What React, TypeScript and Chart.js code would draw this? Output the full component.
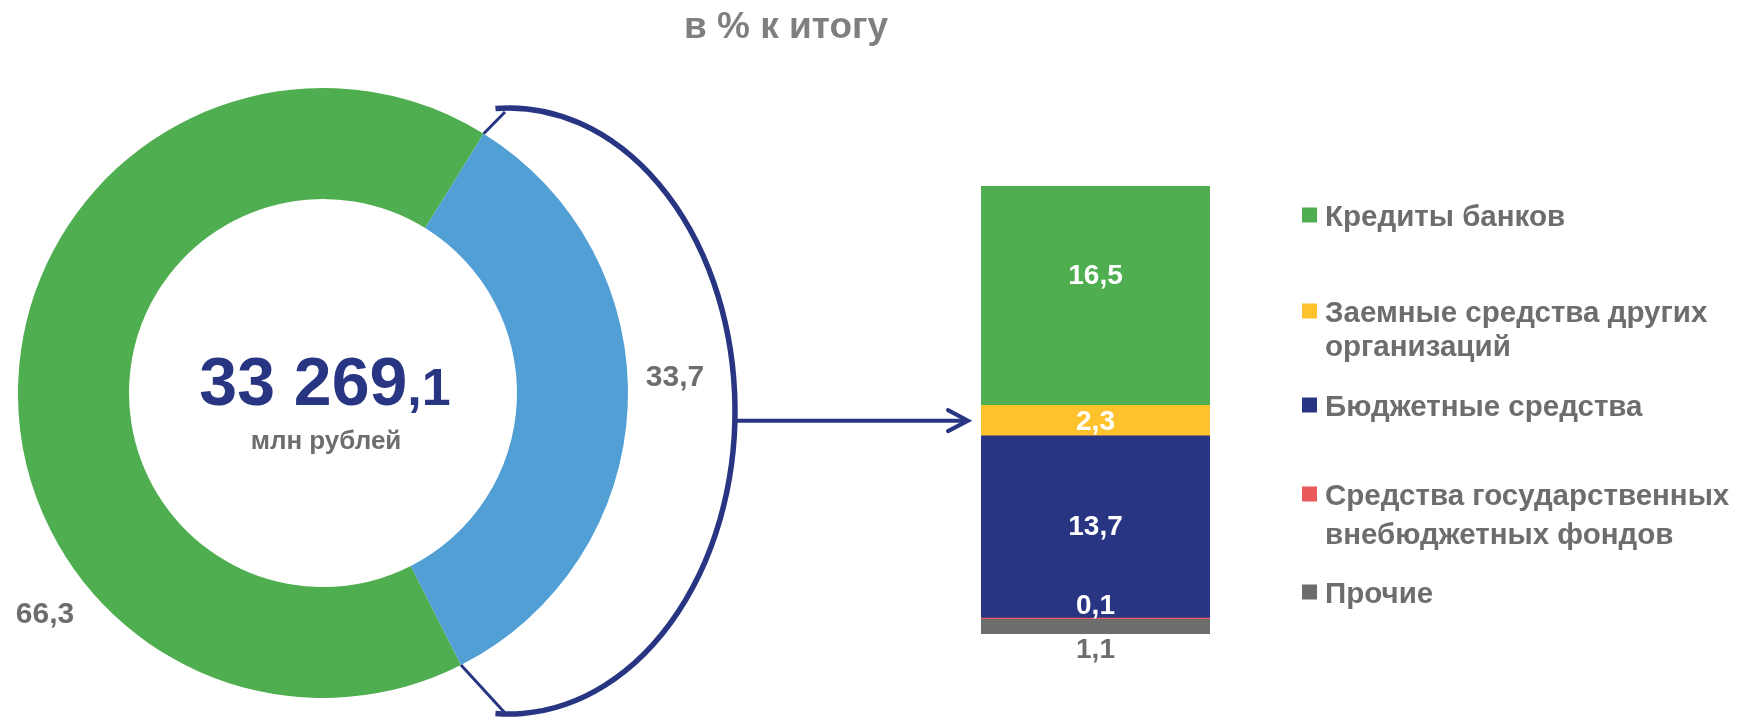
import React, { useEffect, useRef } from 'react';
import { Chart, registerables } from 'chart.js';

Chart.register(...registerables);

// ---------- data ----------
const title = 'в % к итогу';
const totalValue = 33269.1;
const totalUnit = 'млн рублей';

const donutCategories = ['Собственные средства', 'Привлеченные средства'];
const donutValues = [66.3, 33.7];

const structureCategories = [
  'Кредиты банков',
  'Заемные средства других организаций',
  'Бюджетные средства',
  'Средства государственных внебюджетных фондов',
  'Прочие',
];
const structureValues = [16.5, 2.3, 13.7, 0.1, 1.1];
const legendLines = [
  ['Кредиты банков'],
  ['Заемные средства других', 'организаций'],
  ['Бюджетные средства'],
  ['Средства государственных', 'внебюджетных фондов'],
  ['Прочие'],
];

// ---------- styles ----------
const FONT = '"Liberation Sans", Arial, Helvetica, sans-serif';
const NAVY = '#283583';
const GRAY_TEXT = '#6D6D6D';
const donutColors = ['#4FAE4F', '#529FD6'];
const donutLabelOffsets = [
  [-278, 219],
  [352, -18],
];
const structureColors = ['#4FAE4F', '#FEC22D', '#283583', '#E95B5B', '#6D6D6D'];
const structureLabelModes = ['inside', 'inside', 'inside', 'above', 'below'];
const structureLabelDy = [-22, -1, -2, 0, 0];
const structureLabelColors = ['#FFFFFF', '#FFFFFF', '#FFFFFF', '#FFFFFF', GRAY_TEXT];
const legendItemY = [215, 311, 405, 494, 592];
const legendLineGap = [36, 34, 36, 39, 36];
const stackOrder = [4, 3, 2, 1, 0]; // bottom to top

const W = 1752;
const H = 720;

const fmt = (v: number) => v.toFixed(1).replace('.', ',');
const fmtInt = (v: number) =>
  String(Math.floor(v)).replace(/\B(?=(\d{3})+(?!\d))/g, ' ');
const fmtFrac = (v: number) => ',' + v.toFixed(1).split('.')[1];

const donutOverlay = {
  id: 'donutOverlay',
  afterDraw(chart: any) {
    const ctx = chart.ctx as CanvasRenderingContext2D;
    const meta = chart.getDatasetMeta(0);
    const a0 = meta.data[0] as any;
    const blue = meta.data[1] as any;
    const cx = a0.x;
    const cy = a0.y;
    const R = a0.outerRadius;
    ctx.save();

    // title
    ctx.fillStyle = '#7F7F7F';
    ctx.font = `bold 37px ${FONT}`;
    ctx.textAlign = 'center';
    ctx.textBaseline = 'alphabetic';
    ctx.fillText(title, 786, 38);

    // center total
    const big = fmtInt(totalValue);
    const small = fmtFrac(totalValue);
    ctx.font = `bold 68px ${FONT}`;
    const w1 = ctx.measureText(big).width;
    ctx.font = `bold 52px ${FONT}`;
    const w2 = ctx.measureText(small).width;
    const sx = cx + 2 - (w1 + w2) / 2;
    ctx.textAlign = 'left';
    ctx.fillStyle = NAVY;
    ctx.font = `bold 68px ${FONT}`;
    ctx.fillText(big, sx, cy + 12);
    ctx.font = `bold 52px ${FONT}`;
    ctx.fillText(small, sx + w1, cy + 12);

    ctx.textAlign = 'center';
    ctx.fillStyle = GRAY_TEXT;
    ctx.font = `bold 26px ${FONT}`;
    ctx.fillText(totalUnit, cx + 3, cy + 56);

    // donut labels
    ctx.font = `bold 30px ${FONT}`;
    donutValues.forEach((v, i) => {
      const [dx, dy] = donutLabelOffsets[i];
      ctx.fillText(fmt(v), cx + dx, cy + dy + 11);
    });

    // bracket
    ctx.strokeStyle = NAVY;
    ctx.lineWidth = 5.5;
    ctx.beginPath();
    ctx.ellipse(cx + 186, cy + 18, 226, 303, 0, -Math.PI / 2 - 0.06, Math.PI / 2 + 0.06);
    ctx.stroke();

    ctx.lineWidth = 3;
    const sa = blue.startAngle;
    const ea = blue.endAngle;
    ctx.beginPath();
    ctx.moveTo(cx + R * Math.cos(sa), cy + R * Math.sin(sa));
    ctx.lineTo(cx + 182, cy - 281);
    ctx.moveTo(cx + R * Math.cos(ea), cy + R * Math.sin(ea));
    ctx.lineTo(cx + 182, cy + 320);
    ctx.stroke();

    ctx.restore();
  },
};

const barOverlay = {
  id: 'barOverlay',
  afterDraw(chart: any) {
    const ctx = chart.ctx as CanvasRenderingContext2D;
    ctx.save();
    ctx.textAlign = 'center';
    ctx.textBaseline = 'alphabetic';
    ctx.font = `bold 28px ${FONT}`;
    let yellowY = 0;
    let barLeft = 0;
    chart.data.datasets.forEach((ds: any, di: number) => {
      const i = stackOrder[di];
      const el = chart.getDatasetMeta(di).data[0] as any;
      const top = Math.min(el.y, el.base);
      const bottom = Math.max(el.y, el.base);
      barLeft = el.x - el.width / 2;
      if (i === 1) yellowY = (top + bottom) / 2;
      let c = (top + bottom) / 2 + structureLabelDy[i];
      if (structureLabelModes[i] === 'above') c = top - 14;
      if (structureLabelModes[i] === 'below') c = bottom + 14;
      ctx.fillStyle = structureLabelColors[i];
      ctx.fillText(fmt(structureValues[i]), el.x, c + 10);
    });

    // arrow
    ctx.strokeStyle = NAVY;
    ctx.lineWidth = 4;
    const tipX = barLeft - 13;
    ctx.beginPath();
    ctx.moveTo(736, yellowY);
    ctx.lineTo(tipX - 1, yellowY);
    ctx.stroke();
    ctx.lineJoin = 'miter';
    ctx.lineCap = 'round';
    ctx.beginPath();
    ctx.moveTo(tipX - 20, yellowY - 10.5);
    ctx.lineTo(tipX, yellowY);
    ctx.lineTo(tipX - 20, yellowY + 10.5);
    ctx.stroke();

    // legend
    ctx.textAlign = 'left';
    ctx.font = `bold 29.5px ${FONT}`;
    structureCategories.forEach((_, i) => {
      const y0 = legendItemY[i];
      ctx.fillStyle = structureColors[i];
      ctx.fillRect(1302, y0 - 7.5, 15, 15);
      ctx.fillStyle = GRAY_TEXT;
      legendLines[i].forEach((line, j) => {
        ctx.fillText(line, 1325, y0 + j * legendLineGap[i] + 10.5);
      });
    });
    ctx.restore();
  },
};

export default function App() {
  const donutRef = useRef<HTMLCanvasElement>(null);
  const barRef = useRef<HTMLCanvasElement>(null);

  useEffect(() => {
    document.body.style.margin = '0';
    const donut = new Chart(donutRef.current!, {
      type: 'doughnut',
      data: {
        labels: donutCategories,
        datasets: [
          {
            data: donutValues,
            backgroundColor: donutColors,
            borderWidth: 0,
          },
        ],
      },
      options: {
        responsive: false,
        animation: false,
        cutout: '63.6%',
        rotation: 153.1,
        layout: { padding: { left: 18, top: 88, right: W - 628, bottom: H - 698 } },
        plugins: { legend: { display: false }, tooltip: { enabled: false } },
      },
      plugins: [donutOverlay],
    });

    const total = structureValues.reduce((a, b) => a + b, 0);
    const bar = new Chart(barRef.current!, {
      type: 'bar',
      data: {
        labels: [''],
        datasets: stackOrder.map((i) => ({
          label: structureCategories[i],
          data: [structureValues[i]],
          backgroundColor: structureColors[i],
          borderWidth: 0,
          barPercentage: 1,
          categoryPercentage: 1,
        })),
      },
      options: {
        responsive: false,
        animation: false,
        layout: { padding: { left: 981, right: W - 1210, top: 186, bottom: H - 634 } },
        scales: {
          x: { stacked: true, display: false },
          y: { stacked: true, display: false, min: 0, max: total },
        },
        plugins: { legend: { display: false }, tooltip: { enabled: false } },
      },
      plugins: [barOverlay],
    });

    return () => {
      donut.destroy();
      bar.destroy();
    };
  }, []);

  return (
    <div style={{ position: 'relative', width: W, height: H, background: '#fff' }}>
      <canvas
        ref={donutRef}
        width={W}
        height={H}
        style={{ position: 'absolute', left: 0, top: 0 }}
      />
      <canvas
        ref={barRef}
        width={W}
        height={H}
        style={{ position: 'absolute', left: 0, top: 0 }}
      />
    </div>
  );
}
